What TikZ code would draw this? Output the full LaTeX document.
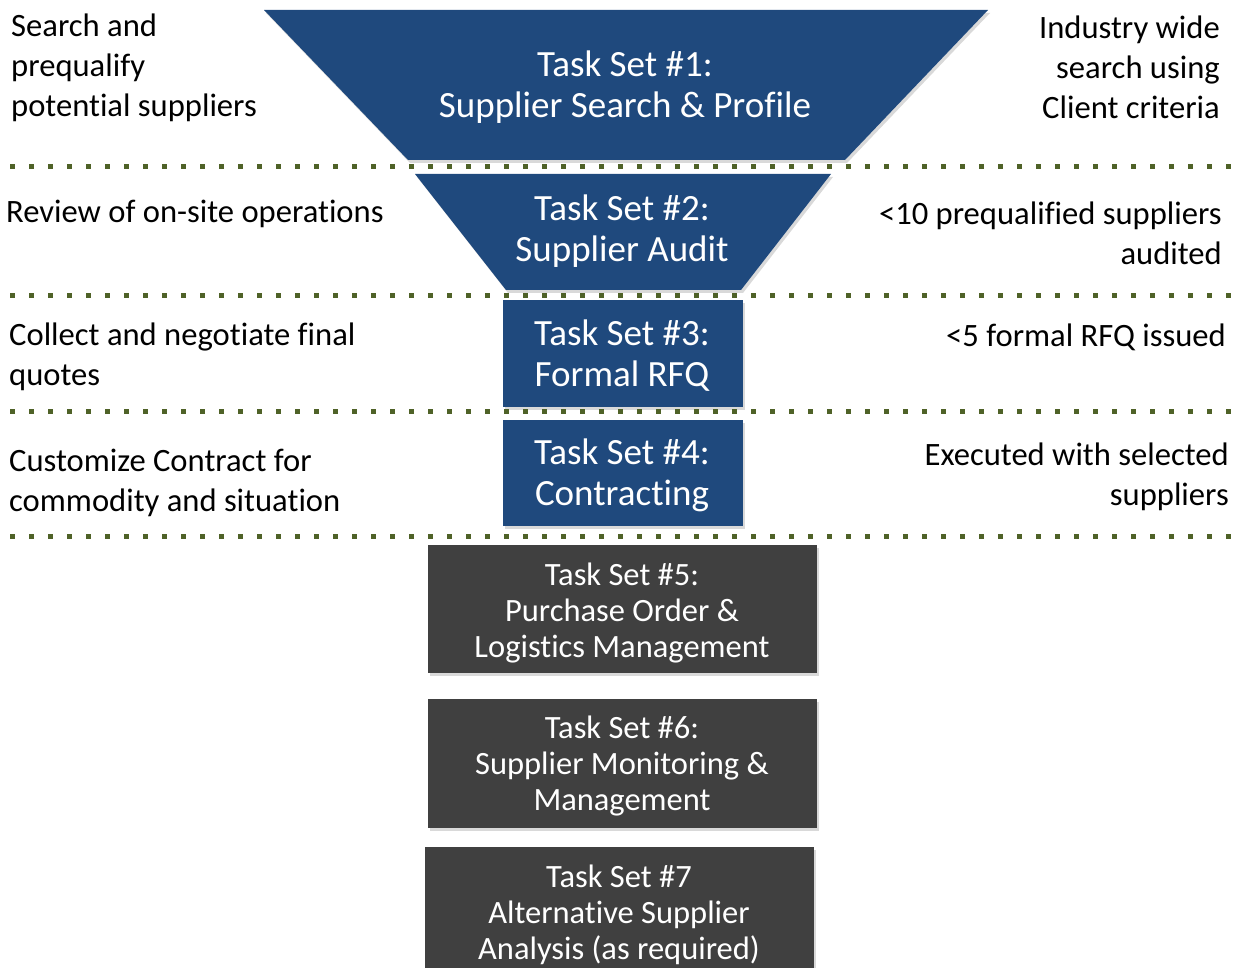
\documentclass[tikz,border=0pt]{standalone}
\usepackage{fontspec}
\setmainfont{Carlito}[Ligatures=NoCommon]
\usetikzlibrary{shadows}
\definecolor{funnelblue}{HTML}{1F497D}
\definecolor{boxgray}{HTML}{404040}
\definecolor{dotgreen}{HTML}{4F6228}
\tikzset{
         funnel/.style={fill=funnelblue,drop shadow={shadow xshift=2pt,shadow yshift=-3pt,opacity=.3}},
         greybox/.style={fill=boxgray,drop shadow={shadow xshift=2pt,shadow yshift=-3pt,opacity=.3}},
         divider/.style={draw=dotgreen,line width=5pt,dash pattern=on 5pt off 14pt},
         tasktext/.style={text=white,align=center,inner sep=0pt,font=\fontsize{37}{41}\selectfont},
         subtext/.style={text=white,align=center,inner sep=0pt,font=\fontsize{32.5}{36}\selectfont},
         sidetext/.style={text=black,inner sep=0pt,font=\fontsize{32.6}{40}\selectfont}
        }
\begin{document}
\begin{tikzpicture}[x=1pt,y=-1pt]
\useasboundingbox(0,0)rectangle(1240,968);
%funnel
\fill[funnel](264,10)--(988,10)--(845,160)--(408,160)--cycle;
\fill[funnel](415,174)--(831,174)--(741,290)--(506,290)--cycle;
\fill[funnel](503,300)rectangle(743,407);
\fill[funnel](503,420)rectangle(743,526);
%later task sets
\fill[greybox](428,545)rectangle(817,673);
\fill[greybox](428,699)rectangle(817,828);
\fill[greybox](425,847)rectangle(814,975);
%dotted dividers
\draw[divider](10,167)--(1232,167);
\draw[divider](10,296)--(1232,296);
\draw[divider](10,411)--(1232,411);
\draw[divider](10,536)--(1232,536);
%task labels
\node[tasktext](ts1)at(625,87){Task Set \#1:\\Supplier Search \& Profile};
\node[tasktext](ts2)at(622,231){Task Set \#2:\\Supplier Audit};
\node[tasktext](ts3)at(622,356){Task Set \#3:\\Formal RFQ};
\node[tasktext](ts4)at(622,475){Task Set \#4:\\Contracting};
\node[subtext](ts5)at(622,613){Task Set \#5:\\Purchase Order \&\\Logistics Management};
\node[subtext](ts6)at(622,766){Task Set \#6:\\Supplier Monitoring \&\\Management};
\node[subtext](ts7)at(619,915){Task Set \#7\\Alternative Supplier\\Analysis (as required)};
%left notes
\node[sidetext,anchor=west,align=left](l1)at(11,68){Search and\\prequalify\\potential suppliers};
\node[sidetext,anchor=west,align=left](l2)at(6,214){Review of on-site operations};
\node[sidetext,anchor=west,align=left](l3)at(9,357){Collect and negotiate final\\quotes};
\node[sidetext,anchor=west,align=left](l4)at(9,483){Customize Contract for\\commodity and situation};
%right notes
\node[sidetext,anchor=east,align=right](r1)at(1220,67){Industry wide\\search using\\Client criteria};
\node[sidetext,anchor=east,align=right](r2)at(1222,233){<10 prequalified suppliers\\audited};
\node[sidetext,anchor=east,align=right](r3)at(1226,337){<5 formal RFQ issued};
\node[sidetext,anchor=east,align=right](r4)at(1229,477){Executed with selected\\suppliers};
\end{tikzpicture}
\end{document}
